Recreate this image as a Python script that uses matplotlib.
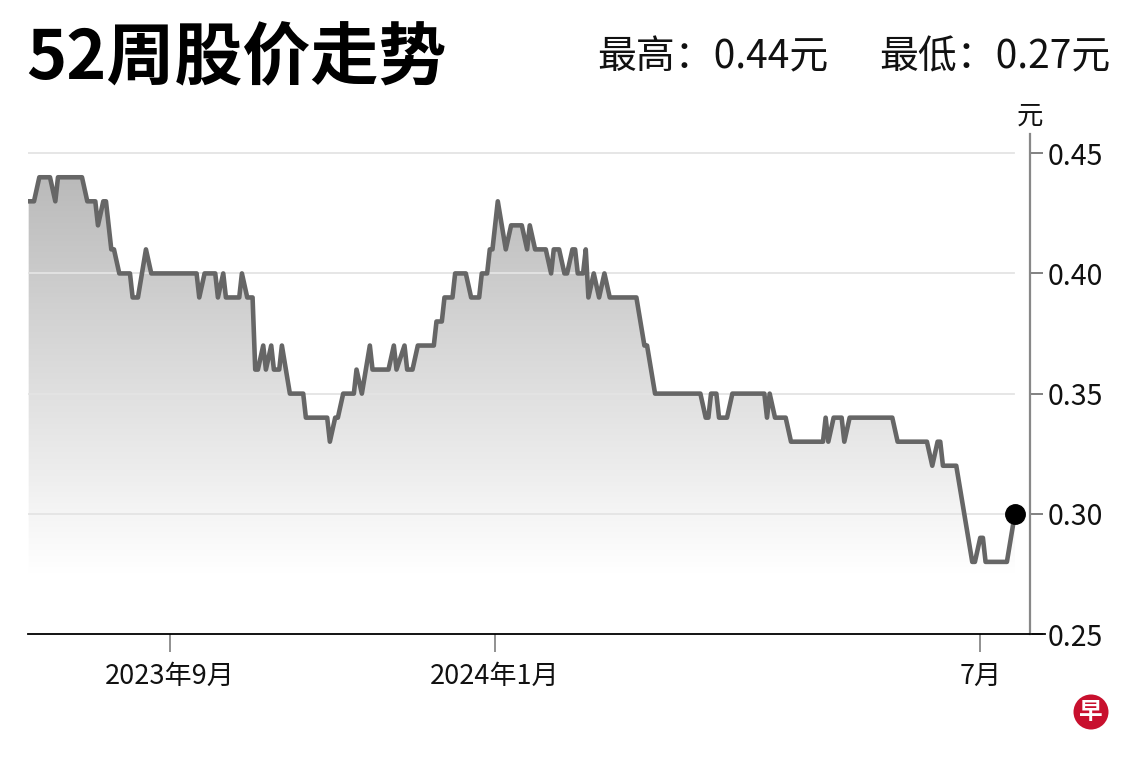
import numpy as np
import pandas as pd
import matplotlib
matplotlib.use("Agg")
import matplotlib.pyplot as plt
import matplotlib.dates as mdates
from matplotlib.colors import LinearSegmentedColormap
from matplotlib.patches import Circle

plt.rcParams['font.family'] = ['Noto Sans CJK SC', 'DejaVu Sans']

# 52-week price path (vertices)
dates = [
    "2023-07-10", "2023-07-12", "2023-07-14", "2023-07-18", "2023-07-20", "2023-07-21",
    "2023-07-30", "2023-08-01", "2023-08-04", "2023-08-05", "2023-08-07", "2023-08-08",
    "2023-08-10", "2023-08-11", "2023-08-13", "2023-08-17", "2023-08-18", "2023-08-20",
    "2023-08-23", "2023-08-25", "2023-09-11", "2023-09-12", "2023-09-14", "2023-09-18",
    "2023-09-19", "2023-09-21", "2023-09-22", "2023-09-27", "2023-09-28", "2023-09-30",
    "2023-10-02", "2023-10-03", "2023-10-04", "2023-10-06", "2023-10-07", "2023-10-09",
    "2023-10-10", "2023-10-12", "2023-10-13", "2023-10-16", "2023-10-21", "2023-10-22",
    "2023-10-30", "2023-10-31", "2023-11-02", "2023-11-03", "2023-11-05", "2023-11-09",
    "2023-11-10", "2023-11-12", "2023-11-15", "2023-11-16", "2023-11-22", "2023-11-24",
    "2023-11-25", "2023-11-28", "2023-11-29", "2023-12-01", "2023-12-03", "2023-12-09",
    "2023-12-10", "2023-12-12", "2023-12-13", "2023-12-16", "2023-12-17", "2023-12-21",
    "2023-12-23", "2023-12-26", "2023-12-27", "2023-12-29", "2023-12-30", "2023-12-31",
    "2024-01-02", "2024-01-05", "2024-01-07", "2024-01-11", "2024-01-13", "2024-01-14",
    "2024-01-16", "2024-01-20", "2024-01-22", "2024-01-23", "2024-01-25", "2024-01-27",
    "2024-01-28", "2024-01-30", "2024-01-31", "2024-02-01", "2024-02-03", "2024-02-04",
    "2024-02-05", "2024-02-07", "2024-02-09", "2024-02-11", "2024-02-13", "2024-02-23",
    "2024-02-26", "2024-02-27", "2024-03-01", "2024-03-18", "2024-03-20", "2024-03-21",
    "2024-03-22", "2024-03-24", "2024-03-25", "2024-03-28", "2024-03-30", "2024-04-11",
    "2024-04-12", "2024-04-13", "2024-04-15", "2024-04-19", "2024-04-21", "2024-05-03",
    "2024-05-04", "2024-05-05", "2024-05-07", "2024-05-10", "2024-05-11", "2024-05-13",
    "2024-05-29", "2024-05-31", "2024-06-11", "2024-06-13", "2024-06-15", "2024-06-16",
    "2024-06-17", "2024-06-22", "2024-06-28", "2024-06-29", "2024-07-01", "2024-07-02",
    "2024-07-03", "2024-07-11", "2024-07-14",
]
prices = [
    0.43, 0.43, 0.44, 0.44, 0.43, 0.44,
    0.44, 0.43, 0.43, 0.42, 0.43, 0.43,
    0.41, 0.41, 0.40, 0.40, 0.39, 0.39,
    0.41, 0.40, 0.40, 0.39, 0.40, 0.40,
    0.39, 0.40, 0.39, 0.39, 0.40, 0.39,
    0.39, 0.36, 0.36, 0.37, 0.36, 0.37,
    0.36, 0.36, 0.37, 0.35, 0.35, 0.34,
    0.34, 0.33, 0.34, 0.34, 0.35, 0.35,
    0.36, 0.35, 0.37, 0.36, 0.36, 0.37,
    0.36, 0.37, 0.36, 0.36, 0.37, 0.37,
    0.38, 0.38, 0.39, 0.39, 0.40, 0.40,
    0.39, 0.39, 0.40, 0.40, 0.41, 0.41,
    0.43, 0.41, 0.42, 0.42, 0.41, 0.42,
    0.41, 0.41, 0.40, 0.41, 0.41, 0.40,
    0.40, 0.41, 0.41, 0.40, 0.40, 0.41,
    0.39, 0.40, 0.39, 0.40, 0.39, 0.39,
    0.37, 0.37, 0.35, 0.35, 0.34, 0.34,
    0.35, 0.35, 0.34, 0.34, 0.35, 0.35,
    0.34, 0.35, 0.34, 0.34, 0.33, 0.33,
    0.34, 0.33, 0.34, 0.34, 0.33, 0.34,
    0.34, 0.33, 0.33, 0.32, 0.33, 0.33,
    0.32, 0.32, 0.28, 0.28, 0.29, 0.29,
    0.28, 0.28, 0.30,
]
yticks = [0.25, 0.30, 0.35, 0.40, 0.45]
xtick_dates = ["2023-09-01", "2024-01-01", "2024-07-01"]
xtick_labels = ["2023年9月", "2024年1月", "7月"]

title = "52周股价走势"
high_text = "最高：0.44元"
low_text = "最低：0.27元"

x = pd.to_datetime(dates)
y = np.array(prices)
ymin, ymax = 0.25, 0.458
xmin = pd.Timestamp("2023-07-09 18:00")
xmax = pd.Timestamp("2024-07-19 16:00")

fig = plt.figure(figsize=(11.4, 7.6), dpi=100)
ax = fig.add_axes([28 / 1140, 1 - 634 / 760, 1002 / 1140, 500 / 760])

# gradient fill under the line
poly = ax.fill_between(x, y, ymin, facecolor="none", edgecolor="none")
vals = np.linspace(ymin, ymax, 300)
t = np.clip((vals - 0.275) / (0.45 - 0.275), 0, 1).reshape(-1, 1)
grad = LinearSegmentedColormap.from_list("grad", ["#ffffff", "#b6b6b6"])
img = ax.imshow(t, cmap=grad, vmin=0, vmax=1,
                extent=[mdates.date2num(xmin), mdates.date2num(xmax), ymin, ymax],
                origin="lower", aspect="auto", zorder=1)
img.set_clip_path(poly.get_paths()[0], transform=ax.transData)

# grid lines
for v in yticks[1:]:
    ax.axhline(v, xmin=0, xmax=0.984, color="#e4e4e4", lw=1.3, zorder=2)

ax.plot(x, y, color="#666666", lw=3.3, solid_joinstyle="round", zorder=3)
ax.plot(x[-1:], y[-1:], "o", color="black", markersize=14, zorder=4)

ax.set_xlim(xmin, xmax)
ax.set_ylim(ymin, ymax)

for s in ["top", "left"]:
    ax.spines[s].set_visible(False)
ax.spines["right"].set_color("#888888")
ax.spines["right"].set_linewidth(1.6)
ax.spines["bottom"].set_color("black")
ax.spines["bottom"].set_linewidth(1.3)
ax.plot([1, 1.015], [0, 0], transform=ax.transAxes, color="black", lw=1.3, clip_on=False)

ax.yaxis.tick_right()
ax.set_yticks(yticks)
ax.set_yticklabels([f"{v:.2f}" for v in yticks])
ax.tick_params(axis="y", length=9, width=1.3, color="#777777", pad=4,
               labelsize=20.5, labelcolor="#111111")
ax.set_xticks(pd.to_datetime(xtick_dates))
ax.set_xticklabels(xtick_labels)
ax.tick_params(axis="x", length=13, width=1.3, color="#888888", pad=8,
               labelsize=19.5, labelcolor="#111111")

ax.text(1.0, 1.035, "元", transform=ax.transAxes, ha="center", va="center",
        fontsize=19, color="#111111")

fig.text(26 / 1140, 1 - 60 / 760, title, fontsize=49, fontweight="heavy",
         ha="left", va="center", color="black")
fig.text(597 / 1140, 1 - 57 / 760, high_text, fontsize=28, ha="left", va="center",
         color="#111111")
fig.text(1110 / 1140, 1 - 57 / 760, low_text, fontsize=28, ha="right", va="center",
         color="#111111")

# logo
logo = Circle((10.91, 7.6 - 7.12), 0.175, transform=fig.dpi_scale_trans,
              facecolor="#c8102e", edgecolor="none")
fig.patches.append(logo)
fig.text(1091 / 1140, 1 - 712 / 760, "早", fontsize=17, fontweight="bold",
         color="white", ha="center", va="center")

fig.savefig("out.png", dpi=100, facecolor="white")
